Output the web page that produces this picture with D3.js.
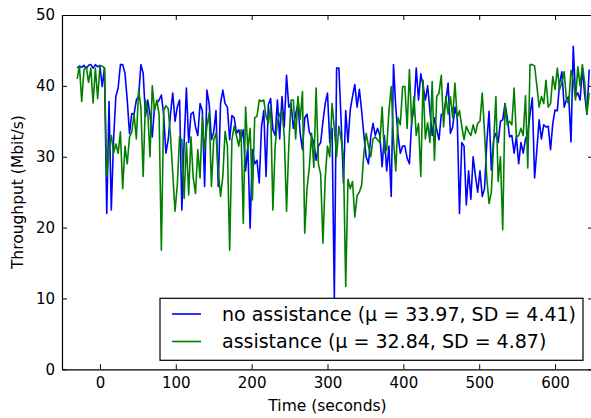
<!DOCTYPE html>
<html>
<head>
<meta charset="utf-8">
<script src="https://cdn.jsdelivr.net/npm/d3@7"></script>
<style>
  body { margin: 0; background: #fff; }
  text { font-family: "DejaVu Sans", sans-serif; }
</style>
</head>
<body>
<div id="chart"></div>
<script>
// samples every 3 s, first sample at t = -30 s
const startTime = -30,
      stepTime = 3;

const noAssistance = [
  42.5, 42.8, 42.6, 42.9, 42.4, 42.9, 43, 42.5, 43, 42.7, 42.9, 39.9, 42.5, 22, 37.8, 22.5, 32.4, 38.5, 39.7, 43,
  43, 41.8, 38, 33.3, 36.1, 36, 38, 38.5, 43, 41.8, 35.7, 38, 36, 32.8, 37.1, 37.5, 38, 38.7, 36, 30.5, 32.4,
  36, 39, 35, 37, 38, 22.5, 32, 39.7, 32, 36, 36.3, 34.2, 33, 37.5, 36.5, 25.8, 39.4, 37.5, 32.4, 33.5,
  36.5, 25.8, 37.5, 39.4, 37.5, 37, 32.4, 35.8, 35.5, 33.3, 33.8, 32.4, 33.8, 28, 31.5, 19.9, 31, 29, 29.5, 26.3,
  34.2, 36.5, 27.2, 37.3, 38.2, 33.8,
  33, 38, 32.5, 38.5, 34.2, 41.5, 37, 37.5, 34, 36, 37.5, 33.3, 31, 35.5, 36, 33.5, 32.8, 32, 29.5, 31.5,
  32, 35, 37.5, 39, 32, 34, 10, 42.5, 42.5, 35, 26.3, 36.5, 32, 36.6, 38.5, 40.2, 37, 39.5, 36.5, 33,
  30, 29, 32.8, 34.7, 33, 34, 33,
  28.6, 33, 28, 31.5, 24.4, 43, 37, 33, 30.5, 31.5, 31.5, 29.8, 29, 35, 36.8, 42.5, 38, 41.7, 40, 38,
  40, 36.5, 33, 35.5, 33.8, 32.4, 36, 36, 37.8, 40.4, 33.3, 34.2, 37, 35.5, 22, 32, 31.5, 23.2, 28, 24,
  30, 27.3, 25, 28, 24.4, 25.5,
  32, 36.4, 28.1, 32.4, 33.3, 32, 35, 35.2, 37.5, 35.5, 32.8, 33, 30.5, 32.8, 29, 32, 30.5, 32.5, 33.3, 36,
  38.3, 27, 31, 35.2, 32.5, 34.5, 34.2, 34.3, 31, 34.7, 36.6, 36.5, 40.4, 42, 37, 38, 38.5, 32.1, 45.6, 38.5,
  39, 38, 42.5, 38.8, 36, 42.3
];

const assistance = [
  41, 42.8, 37.8, 42.3, 42.7, 40.5, 42.5, 37.6, 42.5, 38.2, 42.8, 42.8, 42.5, 27.2, 31, 33, 30.5, 31.8, 30.5, 33.5,
  25.5, 31.5, 29, 32.8, 33.5, 36, 32.5, 39.4, 37, 27.2, 38, 36.5, 30, 40, 36.5, 38, 36, 16.8, 36.5, 37.2, 36.8,
  33, 27.7, 22.3, 26, 32.8, 32.4, 24.1, 32, 24.6, 32.8, 27, 24.8, 31, 27, 35.7, 31, 34.3, 36.2, 25.8, 32.4,
  33.3, 28, 24.4, 27.2, 33.6, 31.5, 16.8, 32.4, 34.3, 33, 31.5, 33.8, 20.6, 37, 31, 34, 23.9, 35.5, 35.7, 38,
  37.8, 38, 35.7, 34.7, 37.1, 22.5,
  31.5, 35, 36, 36.5, 33, 22.3, 31.5, 38, 38, 32.5, 38.5, 35.3, 39.2, 19.2, 25.5, 28.5, 33.3, 28.5, 39.7, 29,
  27.5, 17.8, 27, 31.5, 30, 37.5, 34, 30, 34.3, 32.4, 30, 11.7, 26.8, 25.5, 26.5, 21.5, 24.5, 25, 26, 30.5,
  33.3, 31.5, 30, 32.5, 32.8, 32.4, 32,
  37, 30.5, 31, 36.5, 39.9, 32.4, 28, 35.5, 34.5, 39.9, 39.9, 34, 42.3, 34.5, 38.5, 33, 34.7, 27.2, 40.8, 32.5,
  34.8, 32, 40.6, 29.5, 38.5, 39, 41.5, 34.2, 38.5, 36, 38.5, 35.5, 40.4, 35.5, 36.5, 34.3, 32.4, 34.3, 33.5, 33,
  34.5, 33.3, 34.7, 35, 39, 33.5,
  27, 23.4, 25, 32, 38.5, 26.5, 30, 19.7, 37.5, 34.5, 35, 34.5, 39.7, 32.8, 33, 34, 33, 38.6, 28.4, 43,
  43, 42.8, 40, 37, 38.5, 37.5, 40.8, 37, 37.5, 41.3, 39.5, 42.5, 39.5, 40.5, 42, 38, 37.5, 42.2, 40.8, 38,
  42.7, 40, 43, 40.5, 36, 39
];

const xTicks = [0, 100, 200, 300, 400, 500, 600];
const yTicks = [0, 10, 20, 30, 40, 50];
const seriesNames = ["no assistance (\u03bc = 33.97, SD = 4.41)",
                     "assistance (\u03bc = 32.84, SD = 4.87)"];
const seriesColors = ["#0000ff", "#008000"];

function init() {
    createLinePlot("#chart");
}

function createLinePlot(id) {
    const margin = { top: 15, right: -2, bottom: 48.7, left: 62 },
          width = 591 - margin.left - margin.right,
          height = 418 - margin.top - margin.bottom;

    const root = d3.select(id)
        .append("svg")
        .attr("width", 591)
        .attr("height", 418)
        .style("display", "block");

    root.append("rect")
        .attr("width", 591)
        .attr("height", 418)
        .attr("fill", "white");

    const svg = root.append("g")
        .attr("transform", `translate(${margin.left},${margin.top})`);

    const x = d3.scaleLinear().domain([-50, 650]).range([0, width]);
    const y = d3.scaleLinear().domain([0, 50]).range([height, 0]);

    svg.append("clipPath")
        .attr("id", "plotClip")
        .append("rect")
        .attr("width", width)
        .attr("height", height);

    // the two series, blue first so green sits on top
    const series = [noAssistance, assistance];
    const line = d3.line()
        .x((d, i) => x(startTime + i * stepTime))
        .y(d => y(d));

    svg.selectAll("path.series")
        .data(series)
        .enter()
        .append("path")
        .attr("class", "series")
        .attr("clip-path", "url(#plotClip)")
        .attr("d", d => line(d))
        .attr("fill", "none")
        .attr("stroke", (d, i) => seriesColors[i])
        .attr("stroke-width", 1.6)
        .attr("stroke-linejoin", "round");

    // axes, ticks pointing inward on all four sides
    const xAxis = svg.append("g")
        .attr("transform", `translate(0,${height})`)
        .call(d3.axisBottom(x).tickValues(xTicks).tickSizeInner(-5).tickSizeOuter(0).tickPadding(8));
    const yAxis = svg.append("g")
        .call(d3.axisLeft(y).tickValues(yTicks).tickSizeInner(-5).tickSizeOuter(0).tickPadding(7));
    const topAxis = svg.append("g")
        .call(d3.axisTop(x).tickValues(xTicks).tickSizeInner(-5).tickSizeOuter(0).tickFormat(""));
    const rightAxis = svg.append("g")
        .attr("transform", `translate(${width},0)`)
        .call(d3.axisRight(y).tickValues(yTicks).tickSizeInner(-5).tickSizeOuter(0).tickFormat(""));

    [xAxis, yAxis, topAxis, rightAxis].forEach(a => {
        a.select(".domain").attr("stroke", "black").attr("stroke-width", 1.2);
        a.selectAll(".tick line").attr("stroke", "black");
        a.selectAll(".tick text")
            .attr("fill", "black")
            .attr("font-size", "15px")
            .attr("font-family", "DejaVu Sans, sans-serif");
    });

    // axis titles
    svg.append("text")
        .attr("text-anchor", "middle")
        .attr("x", width / 2)
        .attr("y", height + 42)
        .attr("font-size", "15.5px")
        .text("Time (seconds)");

    svg.append("text")
        .attr("text-anchor", "middle")
        .attr("transform", `translate(${23 - margin.left},${height / 2}) rotate(-90)`)
        .attr("font-size", "15.5px")
        .text("Throughput (Mbit/s)");

    // legend
    const legend = svg.append("g")
        .attr("transform", `translate(${160 - margin.left},${298.3 - margin.top})`);

    legend.append("rect")
        .attr("width", 423)
        .attr("height", 62)
        .attr("fill", "white")
        .attr("stroke", "black")
        .attr("stroke-width", 1.2);

    const rows = legend.selectAll("g.row")
        .data(seriesNames)
        .enter()
        .append("g")
        .attr("class", "row")
        .attr("transform", (d, i) => `translate(0,${15.7 + i * 27.5})`);

    rows.append("line")
        .attr("x1", 12)
        .attr("x2", 41)
        .attr("stroke", (d, i) => seriesColors[i])
        .attr("stroke-width", 1.6);

    rows.append("text")
        .attr("x", 62)
        .attr("y", 6.8)
        .attr("font-size", "19px")
        .text(d => d);
}

init();
</script>
</body>
</html>
